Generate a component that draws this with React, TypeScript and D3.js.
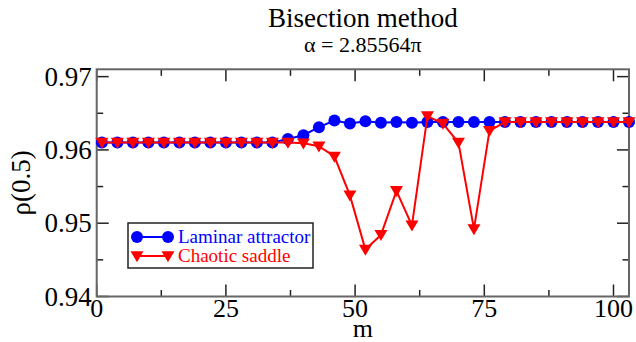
import React from "react";
import * as d3 from "d3";

const mValues = [1, 4, 7, 10, 13, 16, 19, 22, 25, 28, 31, 34, 37, 40, 43, 46, 49, 52, 55, 58, 61, 64, 67, 70, 73, 76, 79, 82, 85, 88, 91, 94, 97, 100, 103];
const laminar = [0.961, 0.961, 0.961, 0.961, 0.961, 0.961, 0.961, 0.961, 0.961, 0.961, 0.961, 0.961, 0.9615, 0.962, 0.9631, 0.964, 0.9636, 0.9639, 0.9637, 0.9638, 0.9637, 0.9638, 0.9638, 0.9638, 0.9638, 0.9638, 0.9638, 0.9638, 0.9638, 0.9638, 0.9638, 0.9638, 0.9638, 0.9638, 0.9638];
const chaotic = [0.961, 0.961, 0.961, 0.961, 0.961, 0.961, 0.961, 0.961, 0.961, 0.961, 0.961, 0.961, 0.961, 0.9609, 0.9605, 0.9591, 0.9538, 0.9464, 0.9484, 0.9544, 0.9497, 0.9646, 0.9636, 0.961, 0.9492, 0.9626, 0.9638, 0.9638, 0.9638, 0.9638, 0.9638, 0.9638, 0.9638, 0.9638, 0.9638];
const xMajorTicks = [0, 25, 50, 75, 100];
const xMinorTicks = [12.5, 37.5, 62.5, 87.5];
const yMajorTicks = [0.94, 0.95, 0.96, 0.97];
const yMinorTicks = [0.945, 0.955, 0.965];
const yTickLabels = ["0.94", "0.95", "0.96", "0.97"];

const W = 636, H = 342;
const L = 96.7, R = 629, T = 69.3, B = 296.5;
const font = "Liberation Serif, DejaVu Serif, Times New Roman, serif";

export default function App() {
  const x = d3.scaleLinear().domain([0, 103]).range([L, R]);
  const y = d3.scaleLinear().domain([0.94, 0.971]).range([B, T]);
  const line = d3.line<number>().x((_, i) => x(mValues[i])).y((v) => y(v));
  const tri = (cx: number, cy: number, s = 6.5) =>
    `M${cx - s},${cy - s * 0.75}L${cx + s},${cy - s * 0.75}L${cx},${cy + s * 0.95}Z`;
  const major = 12, minor = 6.5;
  return (
    <svg width={W} height={H} style={{ position: "absolute", left: 0, top: 0, background: "#fff", fontFamily: font }}>
      <rect x={0} y={0} width={W} height={H} fill="#fff" />
      <text x={(L + R) / 2} y={27} textAnchor="middle" style={{ fontFamily: font }} fontSize={27}>Bisection method</text>
      <text x={(L + R) / 2} y={52} textAnchor="middle" style={{ fontFamily: font }} fontSize={22}>α = 2.85564π</text>
      {/* ticks */}
      <g stroke="#222" strokeWidth={1.5}>
        {xMajorTicks.map((t) => (
          <g key={"xm" + t}>
            <line x1={x(t)} x2={x(t)} y1={B} y2={B - major} />
            <line x1={x(t)} x2={x(t)} y1={T} y2={T + major} />
          </g>
        ))}
        {xMinorTicks.map((t) => (
          <g key={"xn" + t}>
            <line x1={x(t)} x2={x(t)} y1={B} y2={B - minor} />
            <line x1={x(t)} x2={x(t)} y1={T} y2={T + minor} />
          </g>
        ))}
        {yMajorTicks.map((t) => (
          <g key={"ym" + t}>
            <line x1={L} x2={L + major} y1={y(t)} y2={y(t)} />
            <line x1={R} x2={R - major} y1={y(t)} y2={y(t)} />
          </g>
        ))}
        {yMinorTicks.map((t) => (
          <g key={"yn" + t}>
            <line x1={L} x2={L + minor} y1={y(t)} y2={y(t)} />
            <line x1={R} x2={R - minor} y1={y(t)} y2={y(t)} />
          </g>
        ))}
      </g>
      <rect x={L} y={T} width={R - L} height={B - T} fill="none" stroke="#666" strokeWidth={2} />
      {/* tick labels */}
      {yMajorTicks.map((t, i) => (
        <text key={"yl" + t} x={L - 5} y={y(t) + 9} textAnchor="end" style={{ fontFamily: font }} fontSize={27}>{yTickLabels[i]}</text>
      ))}
      {xMajorTicks.map((t) => (
        <text key={"xl" + t} x={x(t)} y={B + 20} textAnchor="middle" style={{ fontFamily: font }} fontSize={26}>{t}</text>
      ))}
      <text x={(L + R) / 2} y={B + 40} textAnchor="middle" style={{ fontFamily: font }} fontSize={26}>m</text>
      <text transform={`translate(${30},${(T + B) / 2}) rotate(-90)`} textAnchor="middle" style={{ fontFamily: font }} fontSize={27}>ρ(0.5)</text>
      {/* series */}
      <path d={line(laminar) || ""} fill="none" stroke="#0000ff" strokeWidth={2} />
      {laminar.map((v, i) => (
        <circle key={"b" + i} cx={x(mValues[i])} cy={y(v)} r={6} fill="#0000ff" />
      ))}
      <path d={line(chaotic) || ""} fill="none" stroke="#ff0000" strokeWidth={2} />
      {chaotic.map((v, i) => (
        <path key={"r" + i} d={tri(x(mValues[i]), y(v))} fill="#ff0000" />
      ))}
      {/* legend */}
      <rect x={128} y={223} width={185} height={45} fill="#fff" stroke="#222" strokeWidth={1.5} />
      <line x1={137} x2={168} y1={237} y2={237} stroke="#0000ff" strokeWidth={2} />
      <circle cx={137} cy={237} r={6} fill="#0000ff" />
      <circle cx={168} cy={237} r={6} fill="#0000ff" />
      <text x={178} y={243} style={{ fontFamily: font }} fontSize={19} fill="#0000ff">Laminar attractor</text>
      <line x1={137} x2={168} y1={256} y2={256} stroke="#ff0000" strokeWidth={2} />
      <path d={tri(137, 256)} fill="#ff0000" />
      <path d={tri(168, 256)} fill="#ff0000" />
      <text x={178} y={262} style={{ fontFamily: font }} fontSize={19} fill="#ff0000">Chaotic saddle</text>
    </svg>
  );
}
